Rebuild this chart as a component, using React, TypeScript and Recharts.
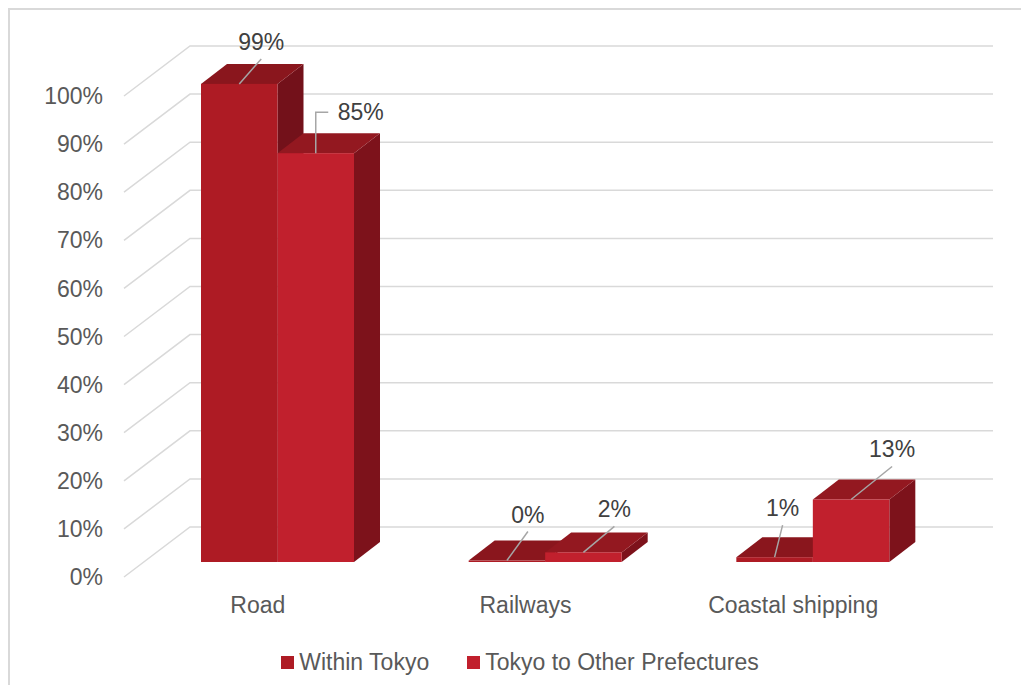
import React from 'react';
import { BarChart, Bar, XAxis, YAxis, CartesianGrid, Legend, LabelList } from 'recharts';

const categories = ['Road', 'Railways', 'Coastal shipping'];
const withinTokyo = [99.4, 0.3, 1];
const tokyoToOther = [85, 2, 13];
const yTicks = [0, 10, 20, 30, 40, 50, 60, 70, 80, 90, 100];
const seriesNames = ['Within Tokyo', 'Tokyo to Other Prefectures'];

const data = categories.map((c, i) => ({ category: c, within: withinTokyo[i], other: tokyoToOther[i] }));

// 3D projection styling
const PLANE_DX = 20; // bar plane offset from the front floor edge
const PLANE_DY = -15;
const DEPTH_DX = 26; // bar depth
const DEPTH_DY = -20;
const FLOOR_DX = 66; // full floor depth
const FLOOR_DY = -50;

const FONT = '"Liberation Sans", Arial, sans-serif';
const AXIS_COLOR = '#595959';
const LABEL_COLOR = '#404040';
const GRID_COLOR = '#D9D9D9';

const colors = {
  within: { front: '#AE1B24', top: '#8A161D', side: '#73111A' },
  other: { front: '#C1202D', top: '#931820', side: '#7D121B' },
};

// label placement relative to each bar's front-top centre
const withinLabelPlacement = [
  { dx: 22, dy: -34, elbow: false },
  { dx: 21, dy: -38, elbow: false },
  { dx: 8, dy: -41, elbow: false },
];
const otherLabelPlacement = [
  { dx: 45, dy: -33, elbow: true },
  { dx: 31, dy: -35, elbow: false },
  { dx: 41, dy: -42, elbow: false },
];

const makeShape = (c: { front: string; top: string; side: string }) => (props: any) => {
  const { x, y, width, height } = props;
  const fx = x + PLANE_DX;
  const fy = y + PLANE_DY;
  const fb = y + height + PLANE_DY;
  const w = width;
  const top = `${fx},${fy} ${fx + DEPTH_DX},${fy + DEPTH_DY} ${fx + w + DEPTH_DX},${fy + DEPTH_DY} ${fx + w},${fy}`;
  const side = `${fx + w},${fy} ${fx + w + DEPTH_DX},${fy + DEPTH_DY} ${fx + w + DEPTH_DX},${fb + DEPTH_DY} ${fx + w},${fb}`;
  return (
    <g>
      <polygon points={side} fill={c.side} />
      <polygon points={top} fill={c.top} />
      <rect x={fx} y={fy} width={w} height={Math.max(fb - fy, 0.5)} fill={c.front} />
    </g>
  );
};

const makeLabel = (placement: { dx: number; dy: number; elbow: boolean }[]) => (props: any) => {
  const vb = props.viewBox && props.viewBox.width !== undefined ? props.viewBox : props;
  const { x, y, width } = vb;
  const idx = props.index ?? 0;
  const p = placement[idx] || placement[0];
  const cx = x + PLANE_DX + width / 2;
  const ty = y + PLANE_DY;
  const text = `${Math.round(Number(props.value))}%`;
  const tx = cx + p.dx;
  const base = ty + p.dy;
  if (p.elbow) {
    const lineY = base - 8;
    return (
      <g>
        <polyline points={`${cx},${ty} ${cx},${lineY} ${cx + 12.5},${lineY}`} fill="none" stroke="#A6A6A6" strokeWidth={1.5} />
        <text x={tx} y={base} textAnchor="middle" fontSize={23} fontFamily={FONT} fill={LABEL_COLOR}>{text}</text>
      </g>
    );
  }
  return (
    <g>
      <line x1={cx} y1={ty} x2={tx} y2={base + 9} stroke="#A6A6A6" strokeWidth={1.5} />
      <text x={tx} y={base} textAnchor="middle" fontSize={23} fontFamily={FONT} fill={LABEL_COLOR}>{text}</text>
    </g>
  );
};

const GridLine = (props: any) => {
  const { x1, y1, x2, y2 } = props;
  return (
    <polyline
      key={props.key ?? `g-${y1}`}
      points={`${x1},${y1} ${x1 + FLOOR_DX},${y1 + FLOOR_DY} ${x2 + FLOOR_DX},${y2 + FLOOR_DY}`}
      fill="none"
      stroke={GRID_COLOR}
      strokeWidth={1.5}
    />
  );
};

const LegendContent = () => (
  <div
    style={{
      height: 40,
      display: 'flex',
      alignItems: 'center',
      justifyContent: 'center',
      paddingLeft: 9,
      fontFamily: FONT,
      fontSize: 23,
      color: AXIS_COLOR,
      boxSizing: 'border-box',
    }}
  >
    {seriesNames.map((n, i) => (
      <div key={n} style={{ display: 'flex', alignItems: 'center', marginLeft: i === 0 ? 0 : 38 }}>
        <span
          style={{
            display: 'inline-block',
            width: 13,
            height: 13,
            background: i === 0 ? colors.within.front : colors.other.front,
            marginRight: 5,
          }}
        />
        <span>{n}</span>
      </div>
    ))}
  </div>
);

export default function App() {
  return (
    <div
      style={{
        width: 1011,
        height: 675,
        borderLeft: `2px solid ${GRID_COLOR}`,
        borderTop: `2px solid ${GRID_COLOR}`,
        background: '#fff',
      }}
    >
      <BarChart
        width={1011}
        height={675}
        data={data}
        margin={{ top: 86, right: 94, bottom: 3, left: 54 }}
        barGap={0}
        barSize={76.5}
      >
        <CartesianGrid vertical={false} horizontal={GridLine} />
        <XAxis
          dataKey="category"
          height={65}
          axisLine={false}
          tickLine={false}
          tickSize={0}
          tickMargin={20}
          tick={{ fontSize: 23, fontFamily: FONT, fill: AXIS_COLOR }}
        />
        <YAxis
          width={60}
          domain={[0, 100]}
          ticks={yTicks}
          interval={0}
          axisLine={false}
          tickLine={false}
          tickSize={0}
          tickMargin={21}
          tickFormatter={(v: number) => `${v}%`}
          tick={{ fontSize: 23, fontFamily: FONT, fill: AXIS_COLOR }}
        />
        <Legend
          verticalAlign="bottom"
          content={<LegendContent />}
          wrapperStyle={{ left: 0, width: 1011 }}
        />
        <Bar dataKey="within" name={seriesNames[0]} fill={colors.within.front} shape={makeShape(colors.within)} isAnimationActive={false}>
          <LabelList dataKey="within" content={makeLabel(withinLabelPlacement)} />
        </Bar>
        <Bar dataKey="other" name={seriesNames[1]} fill={colors.other.front} shape={makeShape(colors.other)} isAnimationActive={false}>
          <LabelList dataKey="other" content={makeLabel(otherLabelPlacement)} />
        </Bar>
      </BarChart>
    </div>
  );
}
